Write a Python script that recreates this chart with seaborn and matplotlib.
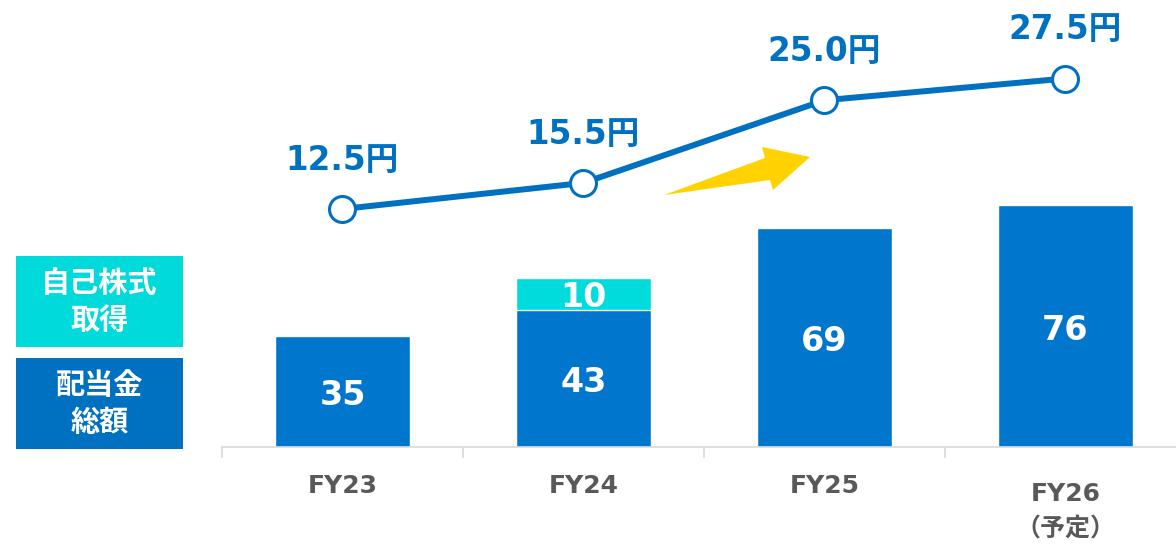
import numpy as np
import pandas as pd
import matplotlib
matplotlib.use("Agg")
import matplotlib.pyplot as plt
from matplotlib.patches import Rectangle, Polygon
import seaborn as sns

# ---- data ----
categories = ["FY23", "FY24", "FY25", "FY26"]
tick_labels = ["FY23", "FY24", "FY25", "FY26\n（予定）"]
dividends = [35, 43, 69, 76]          # 配当金総額
buybacks = [0, 10, 0, 0]              # 自己株式取得
dps = [12.5, 15.5, 25.0, 27.5]        # 1株当たり配当(円)

BLUE_BAR = "#0077CD"
BLUE_LINE = "#0070C0"
CYAN = "#00DCDC"
GRAY = "#595959"

sns.set_theme(style="white")
plt.rcParams["font.family"] = ["DejaVu Sans", "Noto Sans CJK JP"]

W, H = 1176, 545
fig = plt.figure(figsize=(W / 100, H / 100), dpi=100)

# axes geometry (pixels)
x0, x1 = 222, 1186
ybot = 447
ax = fig.add_axes([x0 / W, (H - ybot) / H, (x1 - x0) / W, ybot / H])

df = pd.DataFrame({"cat": categories, "div": dividends, "bb": buybacks})
df["total"] = df["div"] + df["bb"]

sns.barplot(data=df, x="cat", y="total", order=categories, color=CYAN,
            saturation=1, width=0.56, ax=ax)
sns.barplot(data=df, x="cat", y="div", order=categories, color=BLUE_BAR,
            saturation=1, width=0.56, ax=ax)

ax.set_xlim(-0.5, 3.5)
ax.set_ylim(0, ybot / 3.18)
ax.set_xlabel("")
ax.set_ylabel("")
ax.set_yticks([])
for s in ["top", "right", "left"]:
    ax.spines[s].set_visible(False)
ax.spines["bottom"].set_color("#D9D9D9")
ax.spines["bottom"].set_linewidth(1.2)

ax.set_xticks(np.arange(len(categories)))
ax.set_xticklabels([])
ax.tick_params(axis="x", which="major", length=0)
ax.set_xticks(np.arange(len(categories) + 1) - 0.5, minor=True)
ax.tick_params(axis="x", which="minor", length=8, width=1.2, color="#D9D9D9",
               bottom=True)

# x labels
for i, lab in enumerate(tick_labels):
    extra = 8 if "\n" in lab else 0
    ax.annotate(lab, (i, 0), xycoords=("data", "axes fraction"),
                xytext=(0, -(27 + extra) * 0.72), textcoords="offset points",
                ha="center", va="top", fontsize=18, fontweight="bold",
                color=GRAY, linespacing=1.6)

# bar value labels
for i, (d, b) in enumerate(zip(dividends, buybacks)):
    ax.annotate(f"{d}", (i, d / 2), xytext=(0, -3), textcoords="offset points",
                ha="center", va="center", color="white",
                fontsize=24, fontweight="bold")
    if b > 0:
        ax.annotate(f"{b}", (i, d + b / 2), xytext=(0, -2),
                    textcoords="offset points", ha="center", va="center",
                    color="white", fontsize=24, fontweight="bold")

# line on twin axis
ax2 = ax.twinx()
ymin = 12.5 - (ybot - 209) / 8.7
ax2.set_ylim(ymin, ymin + ybot / 8.7)
sns.lineplot(x=np.arange(len(categories)), y=dps, ax=ax2, color=BLUE_LINE,
             linewidth=4.3, marker="o", markersize=18.7,
             markerfacecolor="white", markeredgecolor=BLUE_LINE,
             markeredgewidth=2.2)
ax2.set_xlim(-0.5, 3.5)
ax2.set_yticks([])
ax2.set_ylabel("")
for s in ax2.spines.values():
    s.set_visible(False)
for i, v in enumerate(dps):
    ax2.annotate(f"{v:.1f}円", (i, v), xytext=(0, 35), textcoords="offset points",
                 ha="center", va="center", color=BLUE_LINE, fontsize=23.5,
                 fontweight="bold")

# yellow arrow (decoration)
arrow_px = [(664, 195), (765, 158), (762, 147), (810, 157), (773, 190), (770, 180)]
fig.patches.append(Polygon([(x / W, 1 - y / H) for x, y in arrow_px], closed=True,
                           transform=fig.transFigure, facecolor="#FFD200",
                           edgecolor="none", zorder=5))

# legend boxes
def legend_box(ytop, ybottom, color, text):
    fig.patches.append(Rectangle((16 / W, 1 - ybottom / H), (183 - 16) / W,
                                 (ybottom - ytop) / H, transform=fig.transFigure,
                                 facecolor=color, edgecolor="none"))
    fig.text((16 + 183) / 2 / W, 1 - (ytop + ybottom) / 2 / H, text,
             ha="center", va="center", color="white", fontsize=21,
             fontweight="bold", family=["Noto Sans CJK JP"], linespacing=1.3)

legend_box(256, 347, "#00DADA", "自己株式\n取得")
legend_box(358, 449, "#0070C0", "配当金\n総額")

fig.savefig("out.png", dpi=100)
